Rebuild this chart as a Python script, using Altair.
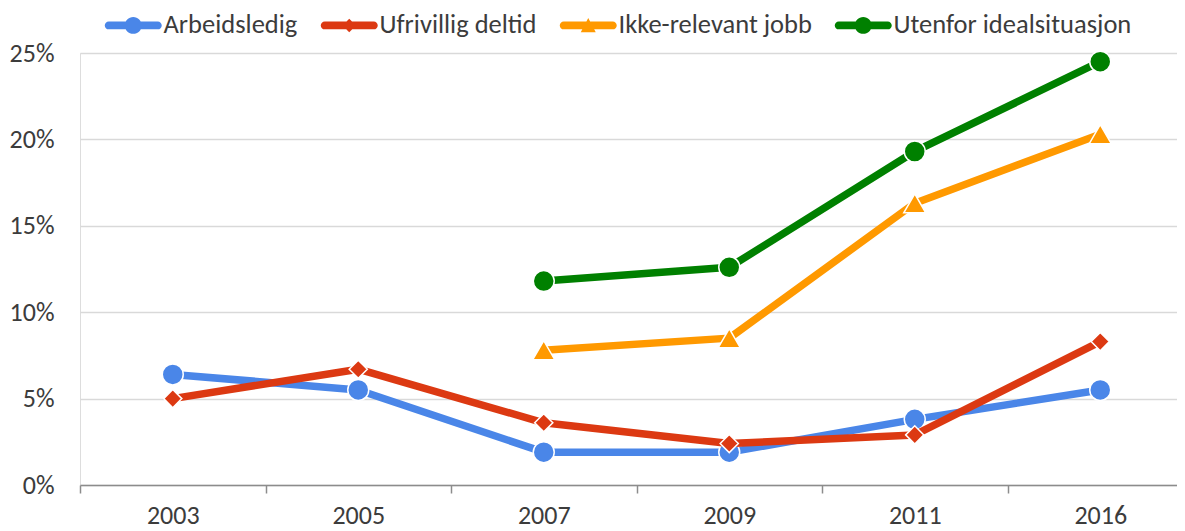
import altair as alt
import pandas as pd

years = ["2003", "2005", "2007", "2009", "2011", "2016"]
series = ["Arbeidsledig", "Ufrivillig deltid", "Ikke-relevant jobb", "Utenfor idealsituasjon"]
arbeidsledig = [6.4, 5.5, 1.9, 1.9, 3.8, 5.5]
ufrivillig = [5.0, 6.7, 3.6, 2.4, 2.9, 8.3]
ikke_relevant = [None, None, 7.8, 8.5, 16.3, 20.3]
utenfor = [None, None, 11.8, 12.6, 19.3, 24.5]
colors = ["#4a86e8", "#dc3912", "#ff9900", "#008000"]
shapes = ["circle", "diamond", "triangle-up", "circle"]
sizes = [440, 330, 484, 440]
y_ticks = [0, 0.05, 0.10, 0.15, 0.20, 0.25]

rows = []
for name, vals in zip(series, [arbeidsledig, ufrivillig, ikke_relevant, utenfor]):
    for yr, v in zip(years, vals):
        if v is not None:
            rows.append({"year": yr, "series": name, "value": v / 100})
df = pd.DataFrame(rows)

FONT = "Carlito, Lato, sans-serif"
TXT = "#3c3c3c"

line_path = ("M-0.47,-0.53 L6.07,-0.53 A0.53,0.53 0 0,1 6.07,0.53 "
             "L-0.47,0.53 A0.53,0.53 0 0,1 -0.47,-0.53 Z ")
circ = "M1.67,0 A1.13,1.13 0 1,1 3.93,0 A1.13,1.13 0 1,1 1.67,0 Z"
legend_paths = [
    line_path + circ,
    line_path + "M2.8,-0.9 L3.7,0 L2.8,0.9 L1.9,0 Z",
    line_path + "M2.8,-1.0 L3.8,0.9 L1.8,0.9 Z",
    line_path + circ,
]

x_enc = alt.X(
    "year:N",
    sort=years,
    scale=alt.Scale(type="band", domain=years, paddingInner=0, paddingOuter=0, range=[0, 1113]),
    bandPosition=0.5,
    axis=alt.Axis(
        title=None, labelAngle=0, tickBand="extent", ticks=True, tickSize=8,
        tickColor="#8c8c8c", tickWidth=1.5, domainColor="#8c8c8c", domainWidth=1.5,
        labelFontSize=26, labelColor=TXT, labelFont=FONT, labelPadding=9, grid=False,
    ),
)
y_enc = alt.Y(
    "value:Q",
    scale=alt.Scale(domain=[0, 0.25], nice=False, zero=True),
    axis=alt.Axis(
        title=None, values=y_ticks, format=".0%", domain=False, ticks=False,
        grid=True, gridColor="#d9d9d9", gridWidth=1.5, labelFontSize=26,
        labelColor=TXT, labelFont=FONT, labelPadding=26,
    ),
)
color_scale = alt.Scale(domain=series, range=colors)

base = alt.Chart(df)

legend = alt.Legend(
    orient="none", legendX=19, legendY=-41, direction="horizontal", title=None,
    labelFontSize=26.5, labelColor=TXT, labelFont=FONT, labelLimit=400, symbolSize=225,
    symbolStrokeWidth=0, symbolOpacity=1, columnPadding=17, labelOffset=38, padding=0,
)
legend_layer = base.mark_point(filled=True, opacity=0).encode(
    x=x_enc, y=y_enc,
    color=alt.Color("series:N", scale=color_scale, legend=legend, sort=series),
    shape=alt.Shape("series:N", scale=alt.Scale(domain=series, range=legend_paths), legend=legend, sort=series),
)
layers = [legend_layer]

for name, shp, sz in zip(series, shapes, sizes):
    sub = base.transform_filter(alt.datum.series == name)
    layers.append(
        sub.mark_line(strokeWidth=7.5, strokeJoin="round").encode(
            x=x_enc, y=y_enc,
            color=alt.Color("series:N", scale=color_scale, legend=None),
        )
    )
    layers.append(
        sub.mark_point(shape=shp, size=sz, filled=True, opacity=1, stroke="white", strokeWidth=1.5).encode(
            x=x_enc, y=y_enc,
            color=alt.Color("series:N", scale=color_scale, legend=None),
        )
    )

chart = alt.layer(*layers).properties(
    width=1097, height=432,
    autosize=alt.AutoSizeParams(type="none"),
    padding={"left": 72, "top": 45, "right": 0, "bottom": 46},
).configure_view(stroke=None).configure(font=FONT)

chart.save("out.html", embed_options={"renderer": "svg", "actions": False})
